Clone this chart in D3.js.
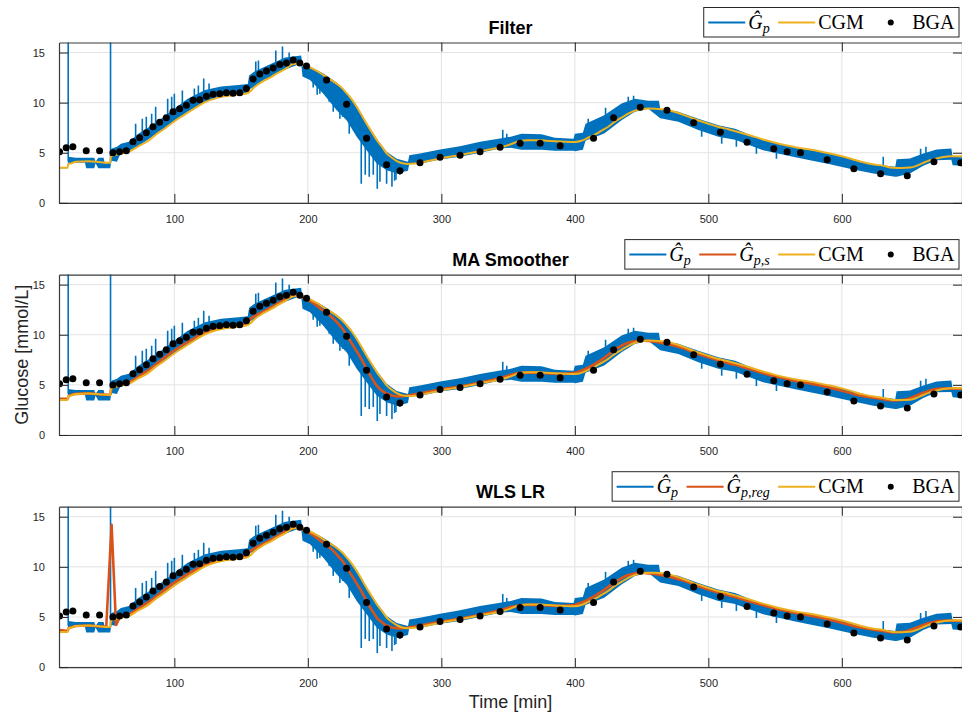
<!DOCTYPE html>
<html>
<head>
<meta charset="utf-8">
<script src="https://cdn.jsdelivr.net/npm/d3@7"></script>
<style>
  body { margin: 0; background: #fff; }
  text { font-family: "Liberation Sans", Arial, sans-serif; }
  .leg text { font-family: "Liberation Serif", "Times New Roman", serif; }
</style>
</head>
<body>
<svg id="chart" width="962" height="719"></svg>
<script>
// ---------------------
// data
// ---------------------

// BGA reference samples
var bgaT = [14,19,24,34,44,54,59,64,69,74,79,84,89,94,99,104,109,114,119,124,129,134,139,144,149,
            154,159,164,169,174,179,184,189,194,199,214,229,244,259,269,284,299,314,329,344,359,374,389,
            414,429,449,469,489,509,529,549,559,569,589,609,629,649,669,689];
var bgaV = [5.1,5.5,5.6,5.2,5.2,5.0,5.1,5.2,6.1,6.5,7.0,7.6,8.05,8.5,9.1,9.4,9.75,10.25,10.3,10.65,10.85,10.9,11.0,10.95,11.0,
            11.4,12.35,12.85,13.15,13.45,13.8,13.95,14.25,13.95,13.65,12.25,9.85,6.45,3.8,3.2,4.0,4.55,4.75,5.1,5.55,5.95,5.95,5.7,
            6.45,8.5,9.55,9.25,8.0,7.05,6.05,5.4,5.1,5.0,4.3,3.4,2.9,2.7,4.1,4.0];

// CGM trace
var cgmT = [14,20,20.5,23,26,36,45,52,52.5,56,61,66,73,80,86,92,98,104,110,116,123,129,136,142,148,154,157,160,166,173,
            178,183,189,194,198,202,207,212,217,222,226,229,233,237,241,244,248,252,256,259,263,267,271,275,280,284,291,299,
            306,314,321,329,336,344,352,358,365,373,379,385,393,400,405,410,415,420,425,430,435,440,445,450,455,460,465,470,
            477,485,492,500,507,515,523,532,541,550,558,566,575,583,591,600,608,616,624,631,638,645,651,656,661,666,671,676,681,690];
var cgmV = [3.5,3.5,3.85,3.95,4.1,4.15,4.05,4.0,4.6,4.8,4.95,5.1,5.65,6.15,6.8,7.35,7.95,8.5,9.0,9.5,10.05,10.35,10.6,10.72,10.82,10.92,11.15,11.55,12.1,12.6,
            13.0,13.35,13.85,13.9,13.75,13.5,13.15,12.72,12.3,11.85,11.4,10.95,10.3,9.5,8.6,7.9,7.05,6.2,5.5,4.95,4.5,4.15,3.95,3.88,3.92,4.0,4.2,4.42,
            4.6,4.76,4.95,5.15,5.33,5.53,5.85,6.15,6.25,6.25,6.2,6.15,6.1,6.08,6.2,6.5,6.8,7.2,7.6,8.1,8.5,8.9,9.2,9.35,9.42,9.4,9.35,9.25,
            9.0,8.6,8.25,7.9,7.6,7.35,7.05,6.7,6.33,6.0,5.75,5.53,5.35,5.15,4.93,4.65,4.35,4.05,3.83,3.7,3.5,3.48,3.52,3.7,3.99,4.25,4.43,4.58,4.66,4.66];

// G_p estimate: dense oscillating trace, given as its lower / upper envelope
var gpT  = [14,20,20.6,26,33,34,40,41,43,47,48,52,52.8,57,60,66,73,85,98,110,123,135,148,155,156,160,173,183,195,196,
            201.6,211.6,221.6,229,236.6,244,251.6,259,266.6,275,276,284,299,314,329,344,352,360,375,385,399,400,406,408,422,
            435,445,455,463,464,477.5,492.5,507.5,520,541,566,591,608.6,623.6,640,641,651,661,671,682,683,690];
var gpLo = [3.45,3.45,3.9,4.0,4.0,3.45,3.45,3.95,3.45,3.45,3.45,3.45,4.2,4.1,5.0,5.1,5.66,6.76,7.92,9.08,10.08,10.55,10.78,10.9,11.3,11.58,12.58,13.3,13.9,12.6,
            12.25,10.9,9.25,8.25,6.6,5.26,3.93,3.26,2.93,3.2,3.93,3.9,4.33,4.6,5.0,5.43,5.5,5.3,5.3,5.2,5.2,5.15,5.3,6.2,6.93,
            8.25,9.08,9.4,8.55,8.45,8.09,7.26,6.6,6.3,5.26,4.53,3.86,3.33,2.93,2.6,2.6,2.93,3.7,4.26,4.3,3.76,3.7];
var gpHi = [3.55,3.55,4.6,4.5,4.5,4.5,4.5,4.1,4.5,4.5,3.9,4.0,5.4,5.6,5.9,6.1,6.9,7.9,9.2,10.4,11.25,11.6,11.75,11.85,12.7,13.1,13.9,14.5,14.7,13.6,
            13.6,12.9,12.0,11.0,9.7,8.0,6.4,5.1,4.4,4.1,4.76,4.93,5.33,5.66,6.09,6.43,6.6,6.9,6.85,6.5,6.4,6.9,7.0,7.9,8.75,
            9.92,10.4,10.2,10.2,9.35,9.1,8.4,7.75,7.4,6.26,5.53,4.93,4.33,3.86,3.6,4.36,4.43,4.93,5.33,5.43,4.6,4.55];

// isolated spikes of G_p (time, value)
var spikeT = [20.5,52.2,71,76,79,83,86,95,98,100,106,115,118,122,126,161,163,176,181,186,
              204,207,209,216,219,224,226,231,240,243,246,249,252,254,259,263,265,266,269,
              346,349,410,423,440,444,495,510,521,536,551,631,659,663];
var spikeV = [17,17,7.9,8.4,8.6,8.9,9.6,10.4,10.6,10.9,11.2,11.4,11.7,12.4,11.9,14.1,14.2,15.2,15.6,15.0,
              11.5,10.8,10.9,10.1,9.1,8.4,8.6,6.9,1.9,2.8,2.6,2.8,1.4,2.1,1.9,1.6,2.2,2.3,2.8,
              7.3,6.9,8.4,9.5,10.6,10.7,6.6,5.9,5.6,4.9,4.4,4.6,5.4,5.6];

// MA smoother output
var smT = [14,20,21,26,36,45,52,53,57,62,68,75,82,90,98,106,114,122,130,138,146,153,157,162,170,178,186,192,197,203,
           210,218,226,234,240,246,252,258,263,268,273,280,290,300,315,330,345,352,360,370,380,390,400,408,415,422,430,438,
           446,452,460,470,480,490,500,510,520,535,550,565,580,595,610,625,638,648,656,664,672,680,690];
var smV = [3.6,3.6,3.9,4.1,4.15,4.05,4.0,4.7,4.9,5.1,5.4,6.0,6.6,7.45,8.25,8.95,9.6,10.15,10.5,10.7,10.85,11.05,11.6,12.0,12.55,13.15,13.75,13.95,13.7,13.25,
           12.55,11.75,10.6,8.9,7.6,6.1,4.85,4.2,3.95,3.85,3.9,4.05,4.3,4.55,4.85,5.25,5.7,6.0,6.2,6.22,6.15,6.1,6.2,6.6,7.1,7.7,8.5,9.1,
           9.38,9.4,9.3,9.05,8.7,8.2,7.75,7.35,7.0,6.4,5.85,5.4,5.05,4.6,4.05,3.7,3.45,3.55,3.95,4.35,4.6,4.65,4.6];

// WLS linear regression output
var regT = [14,20,21,26,36,45,49,53,56.3,59.3,64,68,75,82,90,98,106,114,122,130,138,146,153,157,162,170,178,186,192,197,203,
            210,218,226,234,240,246,252,258,263,268,273,280,290,300,315,330,345,352,360,370,380,390,400,408,415,422,430,438,
            446,452,460,470,480,490,500,510,520,535,550,565,580,595,610,625,638,648,656,664,672,680,690];
var regV = [3.7,3.6,3.9,4.1,4.15,4.05,4.05,14.2,4.2,5.05,5.2,5.4,6.0,6.6,7.45,8.25,8.95,9.6,10.15,10.5,10.7,10.85,11.05,11.6,12.0,12.55,13.15,13.75,13.95,13.7,13.25,
            12.55,11.75,10.6,8.9,7.6,6.1,4.85,4.2,3.95,3.85,3.9,4.05,4.3,4.55,4.85,5.25,5.7,6.0,6.2,6.22,6.15,6.1,6.2,6.6,7.1,7.7,8.5,9.1,
            9.38,9.4,9.3,9.05,8.7,8.2,7.75,7.35,7.0,6.4,5.85,5.4,5.05,4.6,4.05,3.7,3.45,3.55,3.95,4.35,4.6,4.65,4.6];

var xTicks = [100,200,300,400,500,600];
var yTicks = [0,5,10,15];
var titles = ["Filter", "MA Smoother", "WLS LR"];

// ---------------------
// layout
// ---------------------
var svg = d3.select("#chart");
var left = 59, right = 962, panelH = 160.4;
var panelTops = [42.5, 274.6, 506.7];
var colBlue = "#0072BD", colOrange = "#D95319", colYellow = "#EDB120";

var x = d3.scaleLinear().domain([13.6, 690]).range([left, right]);

function pairs(ts, vs) { return ts.map(function(t, i) { return [t, vs[i]]; }); }

// linear lookup of the band middle, used as the foot of each spike
function bandMid(t) {
  var i = d3.bisectLeft(gpT, t);
  if (i <= 0) return (gpLo[0] + gpHi[0]) / 2;
  if (i >= gpT.length) i = gpT.length - 1;
  var f = (t - gpT[i - 1]) / (gpT[i] - gpT[i - 1]);
  var lo = gpLo[i - 1] + f * (gpLo[i] - gpLo[i - 1]);
  var hi = gpHi[i - 1] + f * (gpHi[i] - gpHi[i - 1]);
  return (lo + hi) / 2;
}

var defs = svg.append("defs");

titles.forEach(function(title, pi) {
  var top = panelTops[pi], bottom = top + panelH;
  var y = d3.scaleLinear().domain([0, 16]).range([bottom, top]);
  var g = svg.append("g");

  defs.append("clipPath").attr("id", "clip" + pi)
    .append("rect").attr("x", left).attr("y", top).attr("width", right - left).attr("height", panelH);

  // grid
  g.append("g").selectAll("line").data(xTicks).join("line")
    .attr("x1", d => x(d)).attr("x2", d => x(d)).attr("y1", top).attr("y2", bottom)
    .attr("stroke", "#e3e3e3").attr("stroke-width", 1);
  g.append("g").selectAll("line").data(yTicks).join("line")
    .attr("x1", left).attr("x2", right).attr("y1", d => y(d)).attr("y2", d => y(d))
    .attr("stroke", "#e3e3e3").attr("stroke-width", 1);

  var plot = g.append("g").attr("clip-path", "url(#clip" + pi + ")");

  // G_p band
  plot.append("path")
    .datum(gpT.map(function(t, i) { return {t: t, lo: gpLo[i], hi: gpHi[i]}; }))
    .attr("fill", colBlue)
    .attr("d", d3.area().x(d => x(d.t)).y0(d => y(d.lo)).y1(d => y(d.hi)));
  plot.append("g").selectAll("line").data(pairs(spikeT, spikeV)).join("line")
    .attr("x1", d => x(d[0])).attr("x2", d => x(d[0]))
    .attr("y1", d => y(bandMid(d[0]))).attr("y2", d => y(d[1]))
    .attr("stroke", colBlue).attr("stroke-width", 1.6);

  if (pi === 1) {
    plot.append("path").datum(pairs(smT, smV)).attr("fill", "none")
      .attr("stroke", colOrange).attr("stroke-width", 2.6)
      .attr("d", d3.line().x(d => x(d[0])).y(d => y(d[1])).curve(d3.curveMonotoneX));
  }
  if (pi === 2) {
    plot.append("path").datum(pairs(regT, regV)).attr("fill", "none")
      .attr("stroke", colOrange).attr("stroke-width", 2.6).attr("stroke-linejoin", "round")
      .attr("d", d3.line().x(d => x(d[0])).y(d => y(d[1])));
  }
  plot.append("path").datum(pairs(cgmT, cgmV)).attr("fill", "none")
    .attr("stroke", colYellow).attr("stroke-width", 2)
    .attr("d", d3.line().x(d => x(d[0])).y(d => y(d[1])).curve(d3.curveMonotoneX));

  plot.append("g").selectAll("circle").data(pairs(bgaT, bgaV)).join("circle")
    .attr("cx", d => x(d[0])).attr("cy", d => y(d[1])).attr("r", 3.5).attr("fill", "#000");

  // axes with inward ticks (MATLAB style)
  var ax = g.append("g").attr("class", "axes");
  ax.append("g").attr("transform", "translate(0," + bottom + ")")
    .call(d3.axisBottom(x).tickValues(xTicks).tickSizeInner(-9).tickSizeOuter(0).tickPadding(12));
  ax.append("g").attr("transform", "translate(0," + top + ")")
    .call(d3.axisTop(x).tickValues(xTicks).tickSizeInner(-9).tickSizeOuter(0).tickFormat(""));
  ax.append("g").attr("transform", "translate(" + left + ",0)")
    .call(d3.axisLeft(y).tickValues(yTicks).tickSizeInner(-9).tickSizeOuter(0).tickPadding(14));
  ax.append("g").attr("transform", "translate(" + right + ",0)")
    .call(d3.axisRight(y).tickValues(yTicks).tickSizeInner(-9).tickSizeOuter(0).tickFormat(""));
  ax.selectAll(".domain").attr("stroke", "#3a3a3a").attr("stroke-width", 1.2);
  ax.selectAll(".tick line").attr("stroke", "#262626").attr("stroke-width", 1);
  ax.selectAll(".tick text").attr("fill", "#262626").style("font-size", "11px")
    .style("font-family", "'Liberation Sans', Arial, sans-serif");

  // title
  g.append("text").attr("x", (left + right) / 2).attr("y", top - 9)
    .attr("text-anchor", "middle").style("font-size", "18px").style("font-weight", "bold")
    .attr("fill", "#000").text(title);

  // legend
  var items = [{kind: "line", color: colBlue, sub: "p"}];
  if (pi === 1) items.push({kind: "line", color: colOrange, sub: "p,s"});
  if (pi === 2) items.push({kind: "line", color: colOrange, sub: "p,reg"});
  items.push({kind: "line", color: colYellow, label: "CGM"});
  items.push({kind: "dot", label: "BGA"});

  var leg = svg.append("g").attr("class", "leg");
  var box = leg.append("rect");
  var cx = 4.5, ly = 15;
  items.forEach(function(it, k) {
    if (it.kind === "line") {
      leg.append("line").attr("x1", cx).attr("x2", cx + 37).attr("y1", ly).attr("y2", ly)
        .attr("stroke", it.color).attr("stroke-width", 2);
    } else {
      leg.append("circle").attr("cx", cx + 18.5).attr("cy", ly).attr("r", 3).attr("fill", "#000");
    }
    var t = leg.append("text").attr("x", cx + 40).attr("y", ly + 6.5).style("font-size", "20px").attr("fill", "#000");
    if (it.sub) {
      t.append("tspan").style("font-style", "italic").text("\u011C");
      t.append("tspan").style("font-style", "italic").style("font-size", "14px").attr("dy", 4).text(it.sub);
    } else {
      t.text(it.label);
    }
    cx += 40 + t.node().getComputedTextLength() + 8.5;
  });
  var w = cx - 4;
  box.attr("x", 0).attr("y", 0).attr("width", w).attr("height", 29.5)
    .attr("fill", "#fff").attr("stroke", "#262626").attr("stroke-width", 1);
  leg.attr("transform", "translate(" + (959 - w) + "," + (top - 35) + ")");
});

// axis labels
svg.append("text").attr("transform", "translate(28," + (panelTops[1] + panelH / 2) + ") rotate(-90)")
  .attr("text-anchor", "middle").style("font-size", "18px").attr("fill", "#262626").text("Glucose [mmol/L]");
svg.append("text").attr("x", (left + right) / 2).attr("y", 708)
  .attr("text-anchor", "middle").style("font-size", "18px").attr("fill", "#262626").text("Time [min]");
</script>
</body>
</html>
